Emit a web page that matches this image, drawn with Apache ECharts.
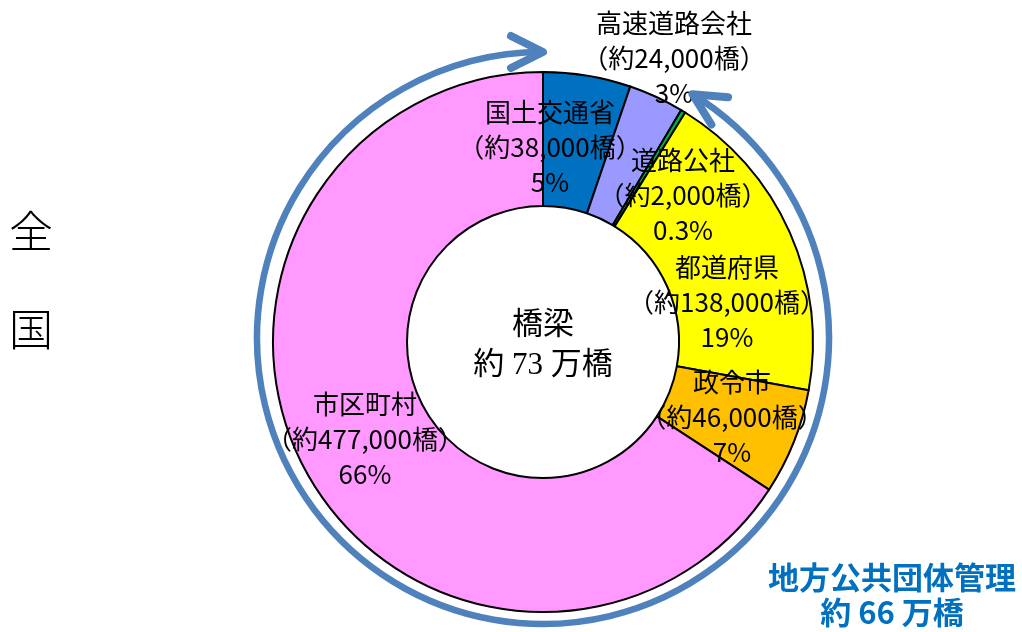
<!DOCTYPE html>
<html>
<head>
<meta charset="utf-8">
<script src="https://cdn.jsdelivr.net/npm/echarts@6/dist/echarts.min.js"></script>
<style>
  html, body { margin: 0; padding: 0; background: #fff; }
  #chart { width: 1022px; height: 632px; }
</style>
</head>
<body>
<div id="chart"></div>
<script>
// 全国の橋梁 管理者別内訳（約73万橋）— ドーナツ + 周囲の矢印

const CATEGORIES   = ["国土交通省", "高速道路会社", "道路公社", "都道府県", "政令市", "市区町村"];
const BRIDGES      = [38000, 24000, 2000, 138000, 46000, 477000];
const SHARE_LABELS = ["5%", "3%", "0.3%", "19%", "7%", "66%"];
const LOCAL_GOV    = ["都道府県", "政令市", "市区町村"];   // 地方公共団体管理

const COLORS    = ["#0070C0", "#9999FF", "#00B050", "#FFFF00", "#FFC000", "#FF99FF"];
const LABEL_POS = [[550, 147], [674, 58], [683, 195], [727, 302], [732, 417], [365, 439]];

const CX = 543, CY = 342, R_IN = 136, R_OUT = 270;
// arrow ring (slightly offset from the pie centre, like the hand-drawn original)
const ARC = { cx: 543, cy: 338, r: 286, gapStart: -90, gapEnd: -58.5 };
const ARROW_CLR = "#4F81BD";
const JP = "'Noto Sans CJK JP', sans-serif";

const total = BRIDGES.reduce((a, b) => a + b, 0);
const local = CATEGORIES.reduce((s, c, i) => s + (LOCAL_GOV.includes(c) ? BRIDGES[i] : 0), 0);
const man = v => Math.round(v / 10000);

const rad = d => d * Math.PI / 180;
// open chevron arrow head at angle deg on the ring, dir = +1 clockwise / -1 counter-clockwise
function arrowHead(deg, dir) {
  const t = rad(deg);
  const tip = [ARC.cx + ARC.r * Math.cos(t), ARC.cy + ARC.r * Math.sin(t)];
  const tan = [-Math.sin(t) * dir, Math.cos(t) * dir];    // travel direction
  const nrm = [-tan[1], tan[0]];
  const L = 32, W = 16;
  return {
    type: "polyline", z: 10,
    shape: { points: [
      [tip[0] - tan[0] * L + nrm[0] * W, tip[1] - tan[1] * L + nrm[1] * W],
      tip,
      [tip[0] - tan[0] * L - nrm[0] * W, tip[1] - tan[1] * L - nrm[1] * W],
    ] },
    style: { stroke: ARROW_CLR, lineWidth: 8, fill: null, lineCap: "round", lineJoin: "round" },
  };
}

const chart = echarts.init(document.getElementById("chart"), null, { renderer: "canvas" });

chart.setOption({
  backgroundColor: "#fff",
  animation: false,
  graphic: [
    { type: "arc", z: 10,
      shape: { cx: ARC.cx, cy: ARC.cy, r: ARC.r,
               startAngle: rad(ARC.gapEnd), endAngle: rad(ARC.gapStart + 360), clockwise: true },
      style: { stroke: ARROW_CLR, lineWidth: 6.5, fill: null } },
    arrowHead(ARC.gapStart, 1),
    arrowHead(ARC.gapEnd, -1),
    { type: "text", x: CX, y: CY + 4, z: 20,
      style: { text: `橋梁\n約 ${man(total)} 万橋`, fill: "#000", align: "center", verticalAlign: "middle",
               font: `31px 'Liberation Serif', 'Noto Sans CJK JP', serif`, lineHeight: 40 } },
    { type: "text", x: 31, y: 231, z: 20,
      style: { text: "全", fill: "#000", align: "center", verticalAlign: "middle",
               font: `300 44px ${JP}` } },
    { type: "text", x: 31, y: 329, z: 20,
      style: { text: "国", fill: "#000", align: "center", verticalAlign: "middle",
               font: `300 44px ${JP}` } },
    { type: "text", x: 892, y: 595, z: 20,
      style: { text: `地方公共団体管理\n約 ${man(local)} 万橋`, fill: "#0070C0", align: "center", verticalAlign: "middle",
               font: `bold 31px ${JP}`, lineHeight: 35 } },
  ],
  series: [{
    type: "pie",
    center: [CX, CY],
    radius: [R_IN, R_OUT],
    startAngle: 90,
    clockwise: true,
    avoidLabelOverlap: false,
    silent: true,
    itemStyle: { borderColor: "#000", borderWidth: 2 },
    label: {
      show: true, position: "inside", color: "#000",
      fontFamily: JP, fontSize: 26, lineHeight: 35,
      formatter: p => `${p.name}\n（約${p.value.toLocaleString("en-US")}橋）\n${SHARE_LABELS[p.dataIndex]}`,
    },
    labelLine: { show: false },
    labelLayout: p => ({
      x: LABEL_POS[p.dataIndex][0], y: LABEL_POS[p.dataIndex][1],
      align: "center", verticalAlign: "middle",
    }),
    data: CATEGORIES.map((name, i) => ({
      name, value: BRIDGES[i], itemStyle: { color: COLORS[i] },
    })),
  }],
});
</script>
</body>
</html>
